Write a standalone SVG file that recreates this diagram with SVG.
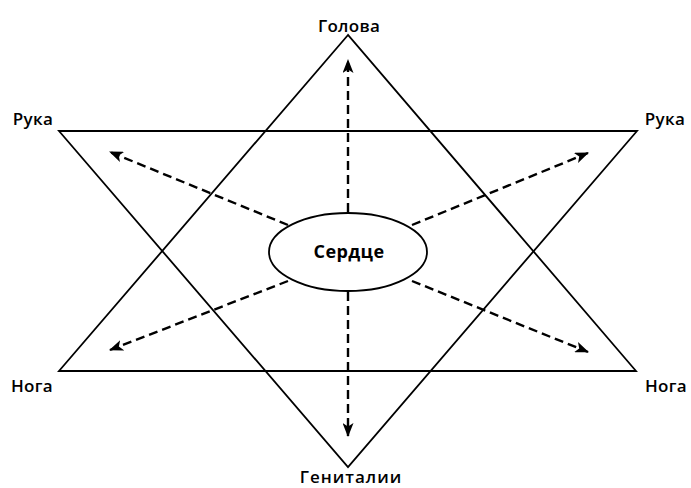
<svg xmlns="http://www.w3.org/2000/svg" width="691" height="488" viewBox="0 0 691 488">
<style>
.tri{fill:none;stroke:#000;stroke-width:1.8}
.arr{stroke:#000;stroke-width:2.4;stroke-dasharray:9 5;fill:none;marker-end:url(#ah)}
.lbl{font-family:"Open Sans","Liberation Sans",sans-serif;font-size:17px;font-weight:600;fill:#000;text-anchor:middle;letter-spacing:0.3px}
.ctr{font-family:"Open Sans","Liberation Sans",sans-serif;font-size:18px;font-weight:700;fill:#000;text-anchor:middle;letter-spacing:0.4px}
</style>
<defs>
<marker id="ah" viewBox="0 0 14 11" refX="13" refY="5.5" markerWidth="14" markerHeight="11" markerUnits="userSpaceOnUse" orient="auto">
<path d="M0,0 L14,5.5 L0,11 L3.5,5.5 Z" fill="#000"/>
</marker>
</defs>
<rect width="691" height="488" fill="#fff"/>
<g id="triangles">
<polygon class="tri" points="348,35 59,371 636,371"/>
<polygon class="tri" points="59,131 637,131 348,467"/>
</g>
<g id="connectors">
<line class="arr" x1="348" y1="212" x2="348" y2="60"/>
<line class="arr" x1="348" y1="292" x2="348" y2="436"/>
<line class="arr" x1="288" y1="225" x2="110" y2="152"/>
<line class="arr" x1="412" y1="225" x2="588" y2="153"/>
<line class="arr" x1="288" y1="281" x2="110" y2="350"/>
<line class="arr" x1="412" y1="281" x2="588" y2="352"/>
</g>
<g id="heart">
<ellipse cx="348" cy="252" rx="79" ry="39" fill="#fff" stroke="#000" stroke-width="1.8"/>
<text class="ctr" x="349" y="258">Сердце</text>
</g>
<g id="head"><text class="lbl" x="349" y="32">Голова</text></g>
<g id="hand-left"><text class="lbl" x="33" y="125">Рука</text></g>
<g id="hand-right"><text class="lbl" x="665" y="125">Рука</text></g>
<g id="leg-left"><text class="lbl" x="32" y="392">Нога</text></g>
<g id="leg-right"><text class="lbl" x="666" y="392">Нога</text></g>
<g id="genitals"><text class="lbl" x="351" y="483" style="letter-spacing:1px">Гениталии</text></g>
</svg>
